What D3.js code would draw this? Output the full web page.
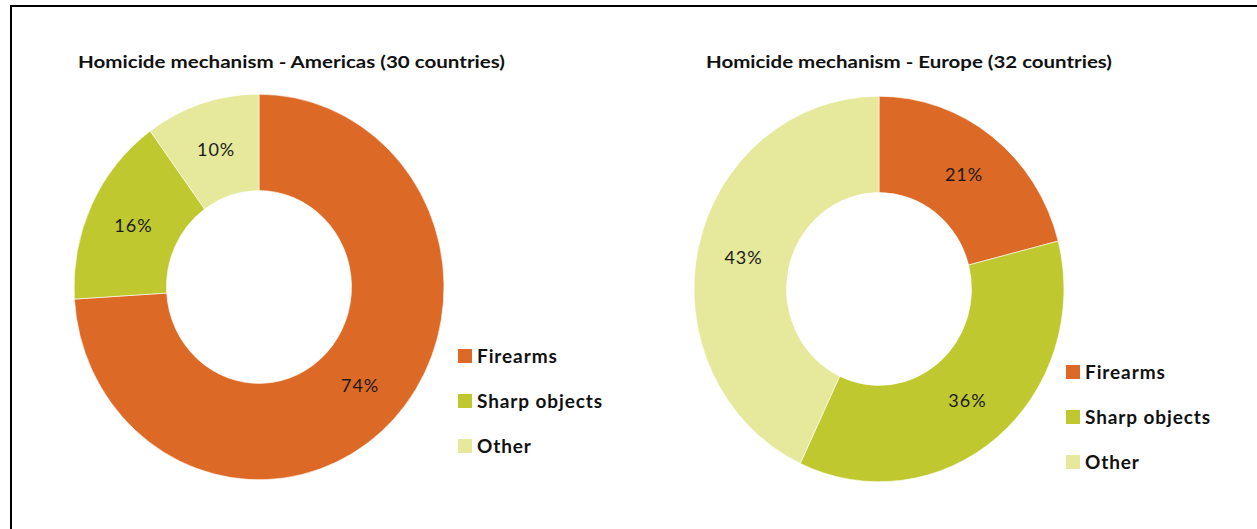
<!DOCTYPE html>
<html>
<head>
<meta charset="utf-8">
<script src="https://cdn.jsdelivr.net/npm/d3@7"></script>
<style>
  body { margin: 0; background: #fff; }
  svg { display: block; font-family: Lato, "Open Sans", sans-serif; }
</style>
</head>
<body>
<div id="chart"></div>
<script>
const categories = ["Firearms", "Sharp objects", "Other"];
const colors = ["#dc6926", "#bfc92f", "#e6e89b"];
const americasValues = [74, 16, 10];
const europeValues = [21, 36, 43];
const titles = ["Homicide mechanism - Americas (30 countries)", "Homicide mechanism - Europe (32 countries)"];

const width = 1257, height = 529;

const svg = d3.select("#chart").append("svg")
    .attr("width", width)
    .attr("height", height);

// frame (left + top edge of the original box)
svg.append("line").attr("x1", 11).attr("x2", 11).attr("y1", 5).attr("y2", height).attr("stroke", "#000").attr("stroke-width", 2);
svg.append("line").attr("x1", 10).attr("x2", width).attr("y1", 6).attr("y2", 6).attr("stroke", "#000").attr("stroke-width", 2);

const panels = [
    { values: americasValues, title: titles[0], cx: 259, cy: 287, titleX: 78, titleW: 427, legendX: 458, legendY: 349 },
    { values: europeValues, title: titles[1], cx: 879, cy: 289, titleX: 706, titleW: 406, legendX: 1066, legendY: 365 },
];

const outerR = 185, innerR = 92.5, sy = 1.042;

const pie = d3.pie().sort(null).value((d) => d.value);
const arc = d3.arc().innerRadius(innerR).outerRadius(outerR);

panels.forEach((p) => {
    const data = categories.map((c, i) => ({ name: c, value: p.values[i], color: colors[i] }));

    svg.append("text")
        .attr("x", p.titleX)
        .attr("y", 68)
        .attr("font-size", 17.5)
        .attr("font-weight", "bold")
        .attr("fill", "#111")
        .attr("textLength", p.titleW)
        .attr("lengthAdjust", "spacingAndGlyphs")
        .text(p.title);

    const g = svg.append("g")
        .attr("transform", `translate(${p.cx},${p.cy}) scale(1,${sy})`);

    const arcs = pie(data);

    g.selectAll("path")
        .data(arcs)
        .join("path")
        .attr("d", arc)
        .attr("fill", (d) => d.data.color)
        .attr("stroke", "#fff")
        .attr("stroke-width", 0.6);

    svg.append("g")
        .selectAll("text")
        .data(arcs)
        .join("text")
        .attr("x", (d) => p.cx + arc.centroid(d)[0])
        .attr("y", (d) => p.cy + arc.centroid(d)[1] * sy)
        .attr("dy", "0.35em")
        .attr("text-anchor", "middle")
        .attr("font-size", 18)
        .attr("letter-spacing", 1)
        .attr("fill", "#1a1a1a")
        .text((d) => `${d.data.value}%`);

    const legend = svg.append("g")
        .attr("transform", `translate(${p.legendX},${p.legendY})`);

    const item = legend.selectAll("g")
        .data(data)
        .join("g")
        .attr("transform", (d, i) => `translate(0,${i * 45})`);

    item.append("rect")
        .attr("width", 14)
        .attr("height", 14)
        .attr("fill", (d) => d.color);

    item.append("text")
        .attr("x", 19)
        .attr("y", 7)
        .attr("dy", "0.36em")
        .attr("font-size", 19)
        .attr("font-weight", "bold")
        .attr("letter-spacing", 0.9)
        .attr("fill", "#111")
        .text((d) => d.name);
});
</script>
</body>
</html>
